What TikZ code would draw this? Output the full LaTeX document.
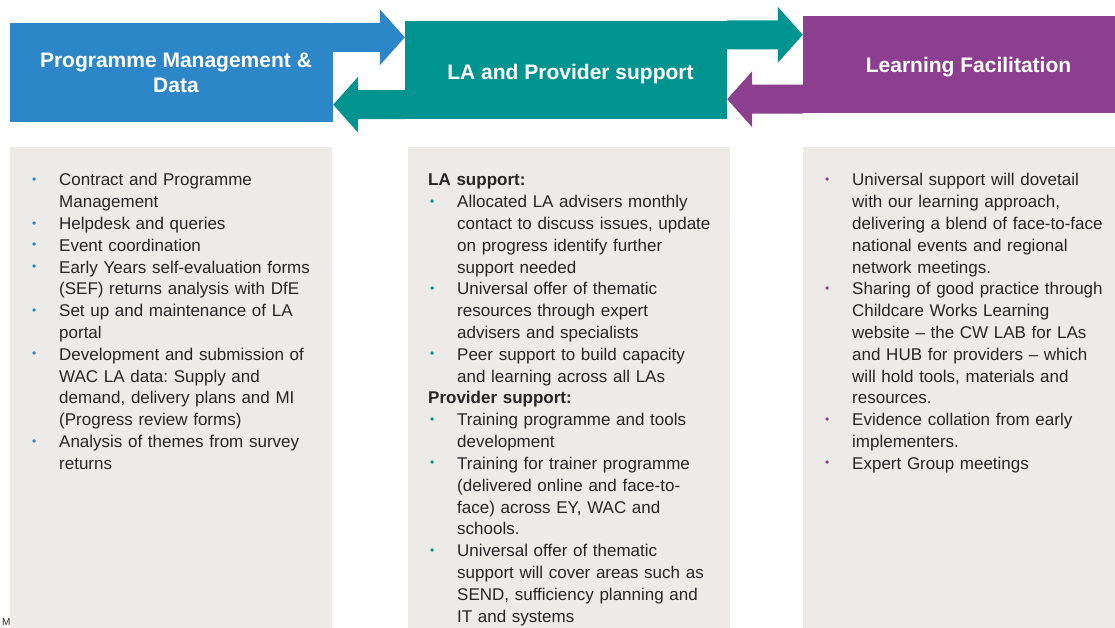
\documentclass[tikz,border=0pt]{standalone}
\usepackage{fontspec}
\setmainfont{Liberation Sans}
\usetikzlibrary{calc,positioning}
\definecolor{pmblue}{RGB}{44,134,199}
\definecolor{lsteal}{RGB}{0,148,145}
\definecolor{lfpurple}{RGB}{139,63,142}
\definecolor{panelgray}{RGB}{237,235,232}
\definecolor{bodytext}{RGB}{38,38,38}
\tikzset{font=\fontsize{17}{21.8}\selectfont}
\tikzset{every node/.append style={inner sep=0pt}}
\tikzset{
  head/.style={fill=#1},
  headtext/.style={text=white, font=\fontsize{21}{25}\selectfont\bfseries, align=center},
  panel/.style={fill=panelgray, minimum width=322, minimum height=494},
  list/.style={anchor=north west, text width=290pt, align=left, text=bodytext,
    execute at begin node={\setlength{\parindent}{0pt}\frenchspacing}},
  fat/.style={to path={let \p1=(\tikztostart), \p2=(\tikztotarget),
      \n1={\x2-25pt*sign(\x2-\x1)} in
      (\x1,\y1+14.5pt) -- (\n1,\y1+14.5pt) -- (\n1,\y1+28pt) -- (\x2,\y1)
      -- (\n1,\y1-28pt) -- (\n1,\y1-14.5pt) -- (\x1,\y1-14.5pt) -- cycle}}
}
\newcommand{\bul}[1]{\par\noindent\llap{\makebox[27pt][l]{\textcolor{#1}{\raisebox{2.5pt}{\fontsize{12}{12}\selectfont\textbullet}}}}}
\newcommand{\hd}[1]{\par\noindent\hspace*{-29pt}\textbf{#1}}

\begin{document}
\begin{tikzpicture}[x=1pt,y=-1pt]
  \useasboundingbox (0,0) rectangle (1115,628);

  % the three headers
  \node[head=pmblue, minimum width=323, minimum height=99] (pm) at (171.5,72.5) {};
  \node[head=lsteal, minimum width=322, minimum height=98] (ls) at (566,70) {};
  \node[head=lfpurple, minimum width=322, minimum height=97] (lf) at (964,64.5) {};
  \node[headtext] (pm-t) at ([xshift=4.5pt]pm.center) {Programme Management \&\\Data};
  \node[headtext, anchor=base] (ls-t) at (570.5,80) {LA and Provider support};
  \node[headtext, anchor=base] (lf-t) at (968.5,73) {Learning Facilitation};

  % arrows between them
  \coordinate (pm-out) at ([yshift=-14.5pt]pm.north east);
  \coordinate (ls-out) at ([yshift=-14pt]ls.north east);
  \coordinate (ls-back) at ([yshift=14.5pt]ls.south west);
  \coordinate (lf-back) at ([yshift=14pt]lf.south west);
  \fill[pmblue] (pm-out) to[fat] (pm-out -| ls.west);
  \fill[lsteal] (ls-out) to[fat] (ls-out -| lf.west);
  \fill[lsteal] (ls-back) to[fat] (ls-back -| pm.east);
  \fill[lfpurple] (lf-back) to[fat] (lf-back -| ls.east);

  % grey panels
  \node[panel] (pm-panel) at (171,394) {};
  \node[panel] (ls-panel) at (569,394) {};
  \node[panel] (lf-panel) at (964,394) {};

  \node[list] (pm-list) at (59,164) {%
    \bul{pmblue}Contract and Programme\newline Management
    \bul{pmblue}Helpdesk and queries
    \bul{pmblue}Event coordination
    \bul{pmblue}Early Years self-evaluation forms\newline (SEF) returns analysis with DfE
    \bul{pmblue}Set up and maintenance of LA\newline portal
    \bul{pmblue}Development and submission of\newline WAC LA data: Supply and\newline demand, delivery plans and MI\newline (Progress review forms)
    \bul{pmblue}Analysis of themes from survey\newline returns};

  \node[list] (ls-list) at (457,164) {%
    \hd{LA support:}
    \bul{lsteal}Allocated LA advisers monthly\newline contact to discuss issues, update\newline on progress identify further\newline support needed
    \bul{lsteal}Universal offer of thematic\newline resources through expert\newline advisers and specialists
    \bul{lsteal}Peer support to build capacity\newline and learning across all LAs
    \hd{Provider support:}
    \bul{lsteal}Training programme and tools\newline development
    \bul{lsteal}Training for trainer programme\newline (delivered online and face-to-\newline face) across EY, WAC and\newline schools.
    \bul{lsteal}Universal offer of thematic\newline support will cover areas such as\newline SEND, sufficiency planning and\newline IT and systems};

  \node[list] (lf-list) at (852,164) {%
    \bul{lfpurple}Universal support will dovetail\newline with our learning approach,\newline delivering a blend of face-to-face\newline national events and regional\newline network meetings.
    \bul{lfpurple}Sharing of good practice through\newline Childcare Works Learning\newline website – the CW LAB for LAs\newline and HUB for providers – which\newline will hold tools, materials and\newline resources.
    \bul{lfpurple}Evidence collation from early\newline implementers.
    \bul{lfpurple}Expert Group meetings};

  \node[anchor=north west, text=bodytext, font=\fontsize{10}{10}\selectfont] (m) at (2,618) {M};
\end{tikzpicture}
\end{document}
